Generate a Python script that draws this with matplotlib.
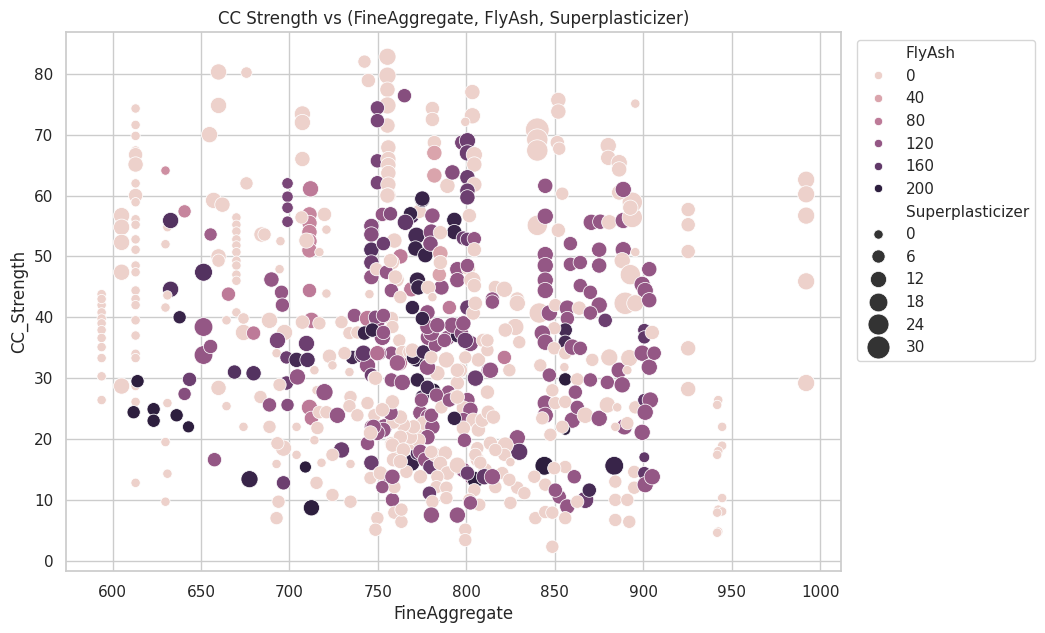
import numpy as np
import pandas as pd
import matplotlib
matplotlib.use("Agg")
import matplotlib.pyplot as plt
import seaborn as sns

# Rows: (FineAggregate, CC_Strength, FlyAsh, Superplasticizer)
group_594_640 = [
    (593.8, 43.8, 0, 0), (593.8, 42.0, 0, 0), (593.8, 40.8, 0, 0), (593.8, 39.8, 0, 0),
    (593.8, 39.0, 0, 0), (593.8, 37.9, 0, 0), (593.8, 36.6, 0, 0), (593.8, 35.1, 0, 0),
    (593.8, 33.3, 0, 0), (593.8, 30.3, 0, 0), (593.8, 26.4, 0, 0), (593.8, 43.0, 0, 0),
    (605.1, 56.7, 0, 12), (605.1, 54.8, 0, 12), (605.1, 52.3, 0, 12), (605.1, 47.4, 0, 12),
    (605.1, 28.7, 0, 12),
    (613.0, 74.3, 0, 0), (613.0, 71.6, 0, 0), (613.0, 69.8, 0, 0), (613.0, 67.4, 0, 0),
    (613.0, 66.7, 0, 8), (613.0, 65.1, 0, 10), (613.0, 62.0, 0, 0), (613.0, 60.0, 0, 8),
    (613.0, 58.9, 0, 0), (613.0, 56.1, 0, 0), (613.0, 55.2, 0, 0), (613.0, 52.8, 0, 0),
    (613.0, 51.1, 0, 0), (613.0, 48.5, 0, 0), (613.0, 47.4, 0, 0), (613.0, 44.4, 0, 0),
    (613.0, 43.0, 0, 0), (613.0, 42.0, 0, 0), (613.0, 39.5, 0, 0), (613.0, 37.0, 0, 0),
    (613.0, 34.0, 0, 0), (613.0, 33.3, 0, 0), (613.0, 26.1, 0, 0), (613.0, 12.8, 0, 0),
    (613.0, 28.7, 0, 0),
    (614.1, 29.5, 200, 6), (611.9, 24.4, 200, 6), (623.2, 24.9, 200, 6), (623.2, 23.0, 200, 6),
    (629.9, 64.1, 60, 0), (629.9, 52.0, 0, 0), (631.0, 54.8, 0, 0), (629.9, 41.6, 0, 0),
    (631.0, 25.9, 0, 0), (629.9, 19.5, 0, 0), (631.0, 14.3, 0, 0), (629.9, 9.7, 0, 0),
    (632.8, 55.9, 170, 12), (632.8, 44.6, 170, 12), (631.0, 43.6, 0, 0),
    (640.7, 57.4, 70, 6), (637.9, 40.0, 190, 6), (636.2, 23.9, 200, 6), (642.9, 22.0, 200, 4),
    (640.7, 27.4, 130, 6), (643.5, 29.8, 150, 8),
]

group_650_700 = [
    (651.4, 38.4, 120, 18), (651.4, 33.8, 120, 18), (655.4, 35.2, 120, 8),
    (651.4, 47.4, 170, 16), (655.4, 53.6, 110, 6), (657.6, 16.6, 120, 8),
    (677.4, 13.4, 190, 14), (668.9, 31.0, 170, 8), (679.7, 30.8, 170, 10),
    (659.9, 28.4, 0, 10), (664.4, 25.4, 0, 0), (674.0, 22.0, 0, 0), (664.4, 39.5, 0, 0),
    (670.0, 40.8, 0, 0), (674.0, 39.8, 0, 3), (674.0, 37.5, 0, 12), (679.7, 37.4, 80, 8),
    (683.6, 26.9, 0, 6),
    (659.9, 80.3, 0, 12), (675.7, 80.2, 0, 3), (659.9, 74.8, 0, 12), (654.8, 70.0, 0, 12),
    (675.7, 62.0, 0, 6), (657.1, 59.2, 0, 12), (662.1, 58.5, 0, 10), (659.9, 50.0, 0, 10),
    (659.9, 49.3, 0, 6),
    (670.0, 56.4, 0, 0), (670.0, 55.2, 0, 0), (670.0, 54.1, 0, 0), (670.0, 52.8, 0, 0),
    (670.0, 51.8, 0, 0), (670.0, 50.7, 0, 0), (670.0, 49.3, 0, 0), (670.0, 48.5, 0, 0),
    (670.0, 47.0, 0, 0), (670.0, 46.0, 0, 0),
    (684.2, 53.6, 0, 10), (665.5, 43.8, 80, 8), (685.9, 53.6, 0, 6),
    (689.8, 46.2, 120, 10), (694.4, 47.9, 0, 0), (695.5, 44.1, 120, 8), (694.9, 52.5, 0, 0),
    (698.9, 62.0, 140, 3), (698.9, 59.8, 140, 3), (698.9, 58.0, 140, 3), (698.9, 55.7, 140, 3),
    (688.7, 39.5, 0, 12), (696.0, 42.0, 120, 8), (697.2, 37.5, 0, 12), (693.2, 36.2, 140, 12),
    (688.7, 25.6, 120, 8), (698.9, 25.6, 130, 6), (692.7, 34.1, 0, 0), (698.3, 33.4, 150, 6),
    (698.3, 29.2, 150, 8), (694.4, 28.9, 0, 6), (688.7, 22.0, 0, 6), (696.6, 18.5, 0, 12),
    (693.2, 19.3, 0, 6), (692.7, 15.9, 0, 0), (696.6, 12.8, 150, 8), (693.8, 9.7, 0, 6),
    (692.7, 7.0, 0, 6),
]

group_700_740 = [
    (707.3, 73.4, 0, 12), (707.3, 72.0, 0, 12), (707.3, 66.0, 0, 10), (711.9, 61.1, 80, 12),
    (711.3, 56.9, 70, 10), (711.3, 55.5, 70, 10), (711.3, 54.0, 70, 10), (711.3, 52.5, 70, 10),
    (711.3, 51.0, 70, 10), (709.6, 52.6, 0, 10), (706.8, 56.4, 0, 6), (719.8, 56.9, 0, 8),
    (720.9, 54.4, 0, 0), (716.9, 50.7, 0, 0), (711.3, 44.4, 80, 8), (720.9, 43.9, 0, 0),
    (704.0, 33.0, 180, 10), (710.2, 33.0, 170, 10), (709.6, 35.7, 150, 12), (712.4, 39.5, 80, 12),
    (716.9, 39.0, 0, 6), (707.3, 39.2, 0, 8), (714.1, 31.3, 0, 0), (722.6, 33.6, 0, 8),
    (724.3, 32.1, 0, 0), (704.5, 30.2, 120, 12), (715.3, 28.0, 0, 0), (719.8, 27.7, 120, 14),
    (711.3, 25.2, 80, 12), (712.4, 23.4, 80, 8), (716.9, 24.4, 0, 6), (720.9, 24.4, 0, 6),
    (727.1, 23.9, 120, 12), (734.5, 26.9, 0, 6), (733.9, 25.4, 0, 6), (738.4, 23.9, 0, 6),
    (704.0, 22.0, 0, 0), (715.8, 21.8, 0, 6), (704.0, 17.4, 0, 0), (714.1, 19.8, 0, 0),
    (729.4, 18.2, 150, 12), (709.0, 15.4, 200, 4), (718.1, 16.1, 0, 0), (724.3, 17.4, 0, 6),
    (734.5, 15.9, 0, 0), (715.3, 12.8, 0, 6), (724.3, 10.8, 0, 6), (734.5, 9.7, 0, 6),
    (712.4, 8.7, 200, 12),
    (736.7, 40.3, 120, 8), (729.4, 39.2, 0, 6), (733.9, 37.4, 0, 6), (738.4, 37.5, 0, 6),
    (735.6, 33.4, 180, 8), (731.1, 34.1, 0, 6), (733.9, 31.0, 0, 0),
]

group_740_775 = [
    (742.4, 82.0, 0, 6), (755.4, 82.8, 0, 14), (744.6, 78.9, 0, 8), (755.4, 79.7, 0, 14),
    (755.4, 77.4, 0, 10), (755.4, 74.8, 0, 14), (755.4, 71.5, 0, 10), (765.0, 76.4, 130, 8),
    (749.7, 74.4, 140, 8), (749.7, 72.3, 140, 8), (749.7, 65.7, 140, 8), (749.7, 62.1, 140, 8),
    (755.9, 67.9, 0, 10), (755.9, 66.0, 0, 10), (755.9, 65.0, 0, 10), (755.9, 63.7, 0, 10),
    (755.9, 61.8, 0, 10), (755.9, 60.0, 0, 10), (752.5, 56.9, 120, 8),
    (746.3, 55.0, 130, 10), (746.3, 53.6, 130, 10), (746.3, 51.1, 170, 10), (746.3, 49.0, 150, 10),
    (746.3, 46.6, 120, 10), (759.3, 52.6, 0, 10), (762.7, 50.0, 80, 10), (758.2, 49.0, 0, 8),
    (749.2, 47.9, 0, 6), (754.8, 47.4, 120, 8), (760.5, 46.2, 0, 10), (757.6, 44.4, 120, 8),
    (768.9, 44.6, 80, 10), (772.3, 46.1, 190, 12), (745.2, 43.8, 0, 0),
    (768.9, 56.7, 170, 12), (771.8, 53.4, 180, 14), (773.4, 57.4, 0, 8),
    (768.4, 57.0, 190, 8), (765.5, 55.6, 160, 12), (757.1, 57.0, 130, 8), (753.1, 52.1, 150, 8),
    (757.1, 49.3, 0, 8), (759.9, 46.6, 0, 8), (762.7, 43.3, 0, 6), (771.2, 51.3, 190, 10),
    (772.9, 44.9, 190, 10), (755.4, 60.0, 0, 10),
    (744.1, 39.8, 80, 12), (749.7, 39.5, 120, 12), (757.6, 39.8, 0, 8), (742.4, 37.4, 190, 8),
    (752.5, 36.7, 120, 12), (757.6, 34.1, 120, 8), (750.8, 34.1, 120, 8), (741.2, 33.8, 160, 12),
    (744.1, 32.1, 120, 12), (746.3, 30.5, 150, 8), (748.0, 30.0, 0, 6), (762.1, 32.5, 80, 12),
    (757.6, 29.7, 120, 8), (763.8, 29.3, 120, 12), (762.1, 36.2, 0, 6), (763.8, 34.3, 0, 6),
    (767.8, 34.3, 0, 6), (769.5, 41.6, 190, 8), (748.6, 40.0, 130, 8), (753.1, 40.3, 120, 8),
    (758.2, 38.4, 0, 6), (746.9, 37.9, 190, 8), (753.1, 37.5, 120, 8), (771.8, 33.0, 190, 8),
    (772.3, 29.7, 190, 8),
    (746.3, 16.1, 150, 10), (745.8, 13.6, 0, 6), (744.1, 19.3, 120, 8), (746.3, 22.0, 120, 8),
    (748.0, 23.9, 0, 6), (753.7, 22.0, 120, 12), (757.6, 19.3, 0, 6), (755.4, 13.3, 120, 8),
    (758.2, 10.0, 120, 8), (759.3, 12.1, 0, 6), (752.5, 12.1, 120, 6), (749.7, 7.0, 0, 6),
    (748.6, 5.1, 0, 6), (759.3, 7.9, 0, 6), (763.3, 6.4, 0, 6), (763.3, 8.4, 0, 6),
    (768.9, 16.1, 190, 14), (772.3, 17.7, 170, 8), (766.1, 14.6, 0, 6), (761.0, 17.0, 0, 6),
    (768.9, 19.3, 0, 6), (774.6, 20.7, 0, 6), (744.1, 25.9, 0, 6),
]

group_center_dense = [
    (741.8, 34.1, 160, 12), (749.7, 34.1, 90, 10), (748.6, 30.0, 0, 8), (761.0, 32.5, 110, 12),
    (770.1, 33.4, 190, 8), (769.5, 34.6, 0, 8), (775.7, 34.3, 180, 8), (783.6, 30.8, 0, 10),
    (778.5, 36.7, 120, 12), (782.5, 35.4, 120, 8), (789.3, 36.6, 120, 10), (794.9, 37.0, 190, 8),
    (802.3, 35.7, 130, 12), (806.8, 33.0, 0, 8), (805.1, 30.0, 120, 12), (812.4, 31.3, 120, 8),
    (811.9, 27.7, 0, 8), (809.6, 36.2, 0, 8), (796.6, 31.3, 0, 8), (794.9, 29.2, 0, 8),
    (789.8, 27.7, 120, 8), (793.8, 26.9, 0, 8), (800.6, 26.4, 120, 10), (798.3, 25.1, 0, 8),
    (802.3, 24.8, 120, 10), (798.3, 23.1, 120, 10), (803.9, 23.1, 0, 8), (798.3, 21.8, 0, 8),
    (806.8, 21.5, 0, 8), (809.0, 23.1, 0, 8), (813.6, 19.3, 0, 8), (812.4, 24.4, 0, 8),
    (815.3, 23.6, 0, 8), (810.7, 14.9, 0, 8), (806.2, 16.6, 0, 8), (803.4, 13.6, 120, 10),
    (781.4, 28.0, 200, 8), (775.1, 26.9, 180, 8), (774.0, 24.3, 120, 10), (778.5, 23.6, 120, 12),
    (775.7, 22.6, 0, 8), (780.8, 22.0, 120, 10), (778.0, 20.3, 120, 10), (772.9, 19.8, 0, 8),
    (768.4, 20.3, 0, 8), (770.1, 22.0, 0, 8), (764.4, 22.3, 0, 8), (758.8, 22.8, 0, 8),
    (762.7, 23.6, 0, 8), (757.1, 24.3, 120, 10), (753.1, 21.5, 120, 10), (749.7, 21.0, 120, 10),
    (747.5, 22.0, 120, 10), (758.2, 26.1, 0, 8), (752.5, 24.8, 0, 8), (745.8, 21.0, 0, 8),
    (762.7, 20.3, 0, 8), (758.2, 19.0, 0, 8), (764.4, 18.2, 0, 8), (774.0, 17.9, 120, 10),
    (776.8, 16.6, 120, 10), (779.7, 15.4, 150, 10), (782.5, 17.4, 0, 8), (788.1, 17.7, 0, 8),
    (785.3, 16.0, 0, 8), (794.9, 15.4, 0, 8), (758.8, 16.6, 0, 8), (762.7, 16.3, 0, 8),
    (751.4, 14.4, 0, 8), (758.2, 13.8, 120, 10), (774.0, 13.8, 0, 8), (789.3, 14.4, 0, 8),
    (798.3, 14.9, 120, 10),
]

group_775_810 = [
    (780.8, 74.3, 0, 8), (780.8, 72.5, 0, 8), (781.9, 68.7, 0, 8), (781.9, 67.0, 40, 10),
    (781.9, 63.3, 40, 10), (789.3, 61.6, 0, 10), (792.1, 63.8, 130, 10), (797.7, 68.7, 140, 10),
    (775.1, 59.3, 190, 10), (780.8, 56.7, 120, 10), (793.2, 56.0, 190, 10), (793.2, 54.0, 190, 10),
    (780.2, 54.0, 130, 12), (785.9, 44.9, 120, 10), (784.7, 47.0, 40, 8), (794.9, 47.9, 120, 10),
    (794.9, 46.1, 120, 10), (776.8, 50.2, 190, 10), (779.7, 52.1, 130, 10), (785.3, 53.9, 0, 8),
    (785.3, 50.5, 40, 10), (785.3, 49.0, 0, 8), (798.3, 53.0, 150, 8), (801.1, 48.0, 0, 8),
    (778.5, 44.9, 0, 8), (780.8, 43.3, 0, 0), (775.1, 59.5, 190, 10),
    (803.4, 77.0, 0, 10), (803.4, 73.1, 0, 12), (799.4, 72.1, 0, 0), (800.6, 69.0, 150, 12),
    (800.6, 67.0, 150, 12), (804.5, 66.7, 0, 12), (804.5, 65.1, 0, 10), (800.6, 63.0, 150, 10),
    (804.5, 61.8, 0, 10), (800.6, 60.8, 150, 10), (800.6, 59.7, 150, 10), (801.7, 56.7, 0, 8),
    (800.6, 52.8, 150, 8), (804.5, 52.9, 120, 8), (804.5, 51.1, 0, 8), (803.4, 46.1, 0, 14),
    (804.5, 45.2, 0, 8), (800.6, 48.5, 120, 8),
    (778.0, 40.8, 120, 10), (780.2, 37.4, 120, 12), (787.6, 36.2, 120, 8), (790.4, 41.6, 80, 8),
    (792.1, 38.7, 120, 12), (797.2, 37.4, 130, 8), (788.7, 33.0, 0, 12), (794.9, 31.3, 0, 8),
    (778.0, 31.8, 120, 12), (780.2, 33.4, 0, 6), (778.0, 28.5, 180, 8), (774.6, 26.4, 120, 8),
    (783.1, 27.2, 120, 8), (780.2, 23.9, 120, 8), (785.9, 25.2, 0, 6), (790.4, 26.4, 120, 8),
    (794.9, 26.9, 0, 8), (778.0, 38.4, 120, 10), (783.6, 38.7, 120, 10), (798.3, 39.0, 120, 10),
    (800.6, 41.6, 150, 10), (803.9, 40.7, 0, 8), (775.1, 39.8, 190, 8), (805.1, 42.3, 0, 8),
    (799.4, 36.2, 150, 12), (799.4, 33.4, 0, 6), (805.1, 30.0, 150, 12),
    (780.2, 17.9, 0, 6), (783.6, 13.8, 0, 6), (783.1, 12.1, 0, 6), (779.1, 11.1, 150, 8),
    (780.8, 9.7, 0, 6), (788.7, 12.0, 0, 6), (788.7, 10.3, 0, 6), (780.2, 7.5, 120, 12),
    (794.9, 7.5, 120, 12), (794.9, 15.7, 0, 12), (793.2, 23.4, 190, 8), (798.9, 19.8, 120, 8),
    (806.2, 18.5, 0, 6), (805.1, 17.4, 0, 6), (807.9, 16.1, 0, 6), (805.1, 13.3, 200, 12),
    (800.6, 14.4, 150, 8), (810.2, 13.8, 160, 12), (804.5, 11.6, 0, 6), (801.7, 10.0, 0, 6),
    (807.3, 9.2, 0, 6), (802.3, 9.5, 120, 8), (799.4, 5.1, 0, 6), (799.4, 3.4, 0, 6),
]

group_810_860 = [
    (840.1, 70.8, 0, 32.2), (840.1, 69.2, 0, 25), (840.1, 67.4, 0, 25), (852.0, 75.7, 0, 10),
    (852.0, 73.8, 0, 10), (851.4, 68.7, 0, 8), (852.5, 67.7, 0, 6), (844.6, 61.6, 120, 10),
    (854.2, 60.3, 0, 6), (840.1, 55.1, 0, 22), (844.6, 56.6, 120, 12), (852.0, 54.3, 0, 8),
    (844.6, 50.3, 120, 12), (844.6, 48.5, 120, 12), (844.6, 46.1, 120, 12), (844.6, 44.4, 120, 12),
    (858.8, 52.1, 120, 8), (858.8, 48.7, 120, 8), (816.4, 44.9, 0, 8), (821.5, 44.6, 0, 12),
    (814.7, 43.0, 120, 8), (828.8, 43.0, 0, 8),
    (814.7, 42.5, 120, 8), (828.8, 42.3, 0, 12), (841.2, 40.7, 0, 22), (846.9, 40.7, 120, 12),
    (850.3, 42.0, 0, 6), (857.1, 41.5, 120, 12), (857.1, 39.8, 120, 8), (855.9, 37.9, 180, 8),
    (855.9, 35.9, 180, 8), (849.7, 38.2, 0, 6), (842.9, 37.4, 120, 12), (844.6, 35.9, 120, 12),
    (849.7, 34.9, 0, 6), (855.9, 34.1, 0, 6), (859.9, 35.1, 120, 12), (827.7, 38.4, 0, 14),
    (822.0, 37.9, 0, 8), (829.9, 35.9, 0, 6), (821.5, 33.4, 80, 8), (813.6, 31.3, 120, 12),
    (824.3, 31.3, 0, 6), (811.9, 34.6, 0, 6), (811.9, 36.2, 0, 6), (841.8, 32.1, 0, 6),
    (846.9, 30.5, 120, 8), (855.4, 31.8, 0, 0), (855.9, 29.8, 200, 6),
    (844.6, 25.9, 120, 12), (850.3, 25.9, 0, 6), (848.6, 28.0, 0, 6), (855.9, 26.1, 0, 6),
    (859.9, 23.1, 120, 12), (855.9, 21.5, 200, 2), (854.2, 22.0, 0, 6), (847.5, 20.7, 0, 6),
    (844.6, 23.9, 120, 12), (842.9, 23.4, 0, 6), (828.8, 20.2, 120, 12), (829.9, 17.9, 160, 14),
    (822.0, 19.0, 0, 12), (821.5, 17.4, 0, 6), (816.4, 18.2, 0, 6), (824.9, 16.2, 0, 0),
    (844.1, 15.6, 200, 18), (855.9, 15.4, 0, 6), (849.7, 15.2, 0, 6), (838.4, 13.8, 0, 6),
    (844.6, 12.5, 0, 6), (828.8, 12.0, 0, 6), (832.8, 11.1, 0, 6), (820.3, 14.4, 0, 6),
    (824.3, 13.3, 0, 6), (816.4, 12.1, 0, 6), (814.7, 13.8, 120, 12), (824.9, 9.5, 0, 6),
    (839.0, 7.0, 0, 6), (844.6, 8.0, 0, 6), (848.6, 7.9, 0, 6), (852.5, 10.5, 120, 8),
    (857.1, 8.9, 120, 10), (855.9, 7.0, 0, 6), (850.3, 11.6, 120, 8), (848.6, 2.3, 0, 6),
]

group_860_1000 = [
    (864.4, 49.0, 120, 8), (864.4, 45.2, 120, 8), (870.1, 44.1, 120, 8), (870.6, 55.6, 120, 12),
    (875.7, 55.7, 120, 10), (880.8, 55.6, 0, 10), (888.7, 55.9, 120, 12), (893.8, 56.4, 0, 22),
    (893.8, 58.9, 0, 22), (892.7, 58.0, 0, 10), (886.4, 60.5, 0, 10), (888.7, 61.0, 120, 12),
    (880.2, 68.2, 0, 12), (880.2, 66.2, 0, 10), (886.4, 65.4, 0, 12), (886.4, 64.3, 0, 10),
    (895.5, 75.1, 0, 0), (875.1, 51.1, 120, 10), (875.1, 48.5, 120, 10), (888.7, 51.1, 120, 12),
    (895.5, 50.7, 0, 0), (888.1, 49.3, 0, 12), (892.7, 47.0, 0, 22), (903.4, 47.9, 120, 10),
    (899.4, 45.4, 120, 12), (901.1, 44.4, 120, 12),
    (863.8, 41.5, 0, 8), (875.1, 42.0, 120, 12), (878.5, 39.5, 150, 8), (870.1, 40.7, 120, 8),
    (889.8, 42.3, 0, 28), (895.5, 42.3, 0, 14), (903.4, 42.8, 120, 10), (900.6, 37.9, 160, 6),
    (900.6, 36.7, 160, 6), (905.1, 37.5, 0, 8), (864.4, 34.9, 120, 8), (862.7, 29.8, 0, 6),
    (870.1, 29.7, 120, 8), (879.7, 29.3, 120, 8), (871.2, 33.0, 0, 6), (880.8, 33.4, 0, 14),
    (886.4, 31.3, 120, 12), (892.1, 33.3, 0, 14), (888.1, 28.9, 120, 12), (891.0, 31.3, 0, 0),
    (899.4, 34.1, 120, 12), (903.4, 31.8, 120, 12), (906.2, 34.1, 120, 8),
    (861.6, 27.7, 120, 8), (862.7, 25.2, 120, 8), (867.2, 23.9, 0, 12), (875.1, 23.4, 120, 12),
    (879.7, 25.6, 0, 12), (885.3, 25.2, 0, 0), (889.3, 22.0, 120, 12), (891.0, 22.6, 0, 6),
    (895.5, 25.2, 0, 6), (900.6, 26.4, 160, 6), (904.0, 26.4, 120, 12), (901.1, 24.4, 120, 12),
    (899.4, 21.1, 120, 12), (884.2, 22.0, 0, 0),
    (883.6, 15.6, 190, 18), (861.0, 13.8, 120, 8), (867.2, 10.0, 150, 14), (869.5, 11.6, 180, 8),
    (862.7, 9.7, 0, 6), (884.2, 10.0, 0, 6), (891.0, 10.0, 0, 6), (884.2, 6.7, 0, 6),
    (892.1, 6.4, 0, 6), (884.2, 13.0, 0, 6), (894.9, 14.6, 0, 6), (894.9, 12.0, 0, 6),
    (900.6, 17.0, 160, 2), (900.6, 14.4, 160, 6), (901.1, 12.5, 120, 12), (905.1, 13.8, 120, 12),
    (925.4, 57.7, 0, 8), (925.4, 55.2, 0, 8), (925.4, 50.8, 0, 8), (925.4, 34.9, 0, 10),
    (925.4, 28.2, 0, 10),
    (992.1, 62.6, 0, 14), (992.1, 60.2, 0, 14), (992.1, 56.7, 0, 14), (992.1, 45.9, 0, 14),
    (992.1, 29.2, 0, 14),
    (942.4, 26.4, 0, 0), (941.8, 25.6, 0, 0), (944.6, 22.0, 0, 0), (944.6, 18.9, 0, 0),
    (942.4, 18.0, 0, 0), (941.8, 17.4, 0, 0), (944.6, 10.3, 0, 0), (942.4, 8.4, 0, 0),
    (944.6, 8.1, 0, 0), (941.8, 7.9, 0, 0), (942.4, 4.8, 0, 0), (941.8, 4.6, 0, 0),
]

columns = ["FineAggregate", "CC_Strength", "FlyAsh", "Superplasticizer"]
df = pd.DataFrame(
    group_594_640 + group_650_700 + group_700_740 + group_740_775 + group_center_dense
    + group_775_810 + group_810_860 + group_860_1000,
    columns=columns,
)

sns.set_theme(style="whitegrid")
fig, ax = plt.subplots(figsize=(10, 7))
sns.scatterplot(
    data=df, x="FineAggregate", y="CC_Strength",
    hue="FlyAsh", size="Superplasticizer", sizes=(45, 290), ax=ax,
)
ax.set_title("CC Strength vs (FineAggregate, FlyAsh, Superplasticizer)")
ax.legend(loc="upper left", bbox_to_anchor=(1.01, 1))
fig.savefig("out.png", dpi=100, bbox_inches="tight")
